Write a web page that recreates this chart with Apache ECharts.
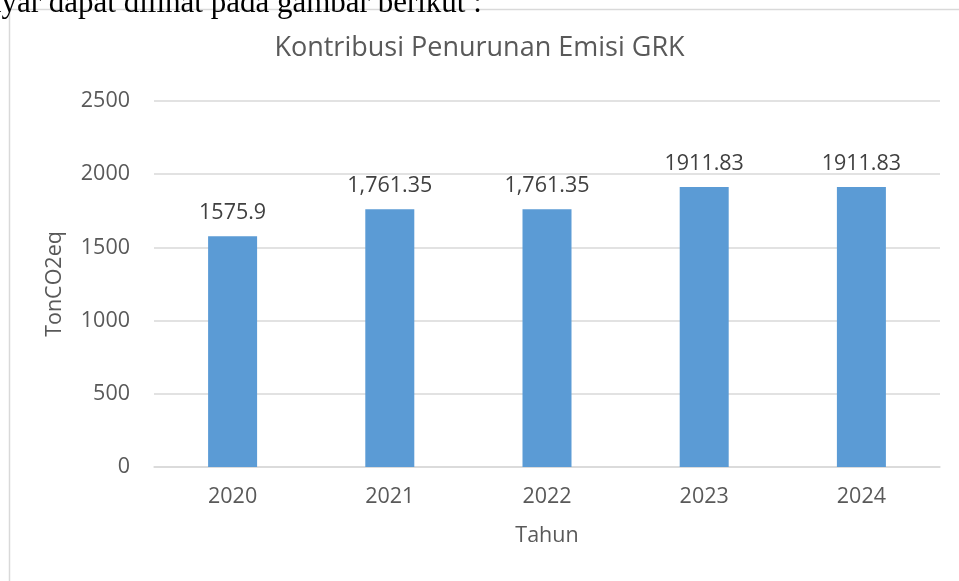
<!DOCTYPE html>
<html>
<head>
<meta charset="utf-8">
<script src="https://cdn.jsdelivr.net/npm/echarts@6/dist/echarts.min.js"></script>
<style>
  html, body { margin: 0; padding: 0; background: #fff; }
  #chart { width: 959px; height: 581px; }
</style>
</head>
<body>
<div id="chart"></div>
<script>
const years = ['2020', '2021', '2022', '2023', '2024']
const emisi = [1575.9, 1761.35, 1761.35, 1911.83, 1911.83]
const valueLabels = ['1575.9', '1,761.35', '1,761.35', '1911.83', '1911.83']

const font = 'Open Sans'
let chart = echarts.init(document.getElementById('chart'))
chart.setOption({
  animation: false,
  graphic: [
    {
      type: 'rect',
      shape: { x: 9.5, y: 9.5, width: 1000, height: 700 },
      style: { fill: 'none', stroke: '#d9d9d9', lineWidth: 1.5 },
      silent: true
    },
    {
      type: 'text',
      left: -14,
      top: -12,
      style: {
        text: 'nyar dapat dilihat pada gambar berikut :',
        font: '31px "Liberation Serif"',
        fill: '#000'
      }
    }
  ],
  title: {
    text: 'Kontribusi Penurunan Emisi GRK',
    left: 'center',
    top: 30,
    textStyle: { fontFamily: font, fontSize: 27, fontWeight: 'normal', color: '#595959' }
  },
  grid: { left: 154, right: 19, top: 101, bottom: 114 },
  xAxis: {
    type: 'category',
    data: years,
    name: 'Tahun',
    nameLocation: 'middle',
    nameGap: 58,
    nameTextStyle: { fontFamily: font, fontSize: 21.5, color: '#595959' },
    axisLine: { lineStyle: { color: '#d9d9d9', width: 1.5 } },
    axisTick: { show: false },
    axisLabel: { fontFamily: font, fontSize: 21.5, color: '#595959', margin: 19 }
  },
  yAxis: {
    type: 'value',
    min: 0,
    max: 2500,
    interval: 500,
    name: 'TonCO2eq',
    nameLocation: 'middle',
    nameGap: 88,
    nameTextStyle: { fontFamily: font, fontSize: 21.5, color: '#595959' },
    axisLine: { show: false },
    axisTick: { show: false },
    axisLabel: { fontFamily: font, fontSize: 21.5, color: '#595959', margin: 24, formatter: v => String(v) },
    splitLine: { lineStyle: { color: '#d9d9d9', width: 1.5 } }
  },
  series: [
    {
      type: 'bar',
      data: emisi,
      barWidth: 49,
      itemStyle: { color: '#5b9bd5' },
      label: {
        show: true,
        position: 'top',
        distance: 12,
        fontFamily: font,
        fontSize: 21.5,
        color: '#404040',
        formatter: p => valueLabels[p.dataIndex]
      }
    }
  ]
})
</script>
</body>
</html>
